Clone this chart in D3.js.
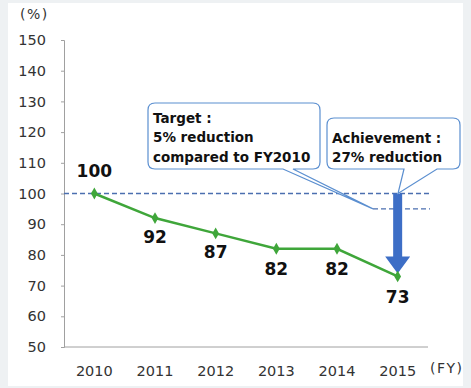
<!DOCTYPE html>
<html>
<head>
<meta charset="utf-8">
<script src="https://cdn.jsdelivr.net/npm/d3@7"></script>
<style>
  html, body { margin: 0; padding: 0; background: #eef1f3; }
  svg { display: block; }
</style>
</head>
<body>
<svg id="chart" width="471" height="388"></svg>
<script>
// Emission index by fiscal year (FY2010 = 100)
const years = ["2010", "2011", "2012", "2013", "2014", "2015"];
const values = [100, 92, 87, 82, 82, 73];
const yTicks = [50, 60, 70, 80, 90, 100, 110, 120, 130, 140, 150];
const baseline = 100;
const target = 95;
const targetLines = ["Target :", "5% reduction", "compared to FY2010"];
const achievementLines = ["Achievement :", "27% reduction"];

const svg = d3.select("#chart");

// white panel
svg.append("rect").attr("x", 8).attr("y", 3).attr("width", 455).attr("height", 383).attr("fill", "#ffffff");

const x = d3.scaleBand().domain(years).range([64, 428]);
const y = d3.scaleLinear().domain([50, 150]).range([347, 40]);
const cx = d => x(d) + x.bandwidth() / 2;

const axisFont = "'DejaVu Sans', Verdana, sans-serif";
const boldFont = "'DejaVu Sans', Verdana, sans-serif";

// y axis
const yAxis = svg.append("g").attr("transform", "translate(64,0)")
  .call(d3.axisLeft(y).tickValues(yTicks).tickSize(3).tickPadding(15));
yAxis.select(".domain").attr("stroke", "#a0a0a0");
yAxis.selectAll(".tick line").attr("stroke", "#a0a0a0");
yAxis.selectAll("text").attr("font-family", axisFont).attr("font-size", 14.5).attr("fill", "#333");

// x axis
const xAxis = svg.append("g").attr("transform", "translate(0,347)")
  .call(d3.axisBottom(x).tickSize(0).tickPadding(19));
xAxis.select(".domain").attr("stroke", "#a0a0a0").attr("d", "M64,0H428");
xAxis.selectAll("text").attr("font-family", axisFont).attr("font-size", 14.5).attr("fill", "#333");

// unit labels
svg.append("text").attr("x", 20).attr("y", 19).text("(%)")
  .attr("font-family", axisFont).attr("font-size", 14).attr("letter-spacing", 1.5).attr("fill", "#333");
svg.append("text").attr("x", 430).attr("y", 373).text("(FY)")
  .attr("font-family", axisFont).attr("font-size", 14).attr("letter-spacing", 1.5).attr("fill", "#333");

// reference lines
svg.append("line").attr("x1", 64).attr("x2", 430).attr("y1", y(baseline)).attr("y2", y(baseline))
  .attr("stroke", "#4b6fb0").attr("stroke-width", 1.3).attr("stroke-dasharray", "5,3");
svg.append("line").attr("x1", 373).attr("x2", 430).attr("y1", y(target)).attr("y2", y(target))
  .attr("stroke", "#4b6fb0").attr("stroke-width", 1.3).attr("stroke-dasharray", "5,3");

// callout outline: rounded box with a pointed tail on its bottom edge
function callout(x0, y0, x1, y1, tailA, tailB, tip, r) {
  const p = d3.path();
  p.moveTo(x0 + r, y0);
  p.lineTo(x1 - r, y0);
  p.quadraticCurveTo(x1, y0, x1, y0 + r);
  p.lineTo(x1, y1 - r);
  p.quadraticCurveTo(x1, y1, x1 - r, y1);
  p.lineTo(tailB, y1);
  p.lineTo(tip[0], tip[1]);
  p.lineTo(tailA, y1);
  p.lineTo(x0 + r, y1);
  p.quadraticCurveTo(x0, y1, x0, y1 - r);
  p.lineTo(x0, y0 + r);
  p.quadraticCurveTo(x0, y0, x0 + r, y0);
  p.closePath();
  return p.toString();
}

// blue arrow from baseline down to the FY2015 value
const ax = cx("2015");
const arrowTop = y(baseline), arrowTip = y(values[5]) - 3;
const headLen = 17, shaftHalf = 4.5, headHalf = 12.5;
svg.append("path")
  .attr("d", `M${ax - shaftHalf},${arrowTop} L${ax + shaftHalf},${arrowTop} L${ax + shaftHalf},${arrowTip - headLen}
    L${ax + headHalf},${arrowTip - headLen} L${ax},${arrowTip} L${ax - headHalf},${arrowTip - headLen}
    L${ax - shaftHalf},${arrowTip - headLen} Z`)
  .attr("fill", "#3d6ec6");

svg.append("path").attr("d", callout(148, 103, 320, 169, 283, 293, [373, y(target)], 7))
  .attr("fill", "#ffffff").attr("stroke", "#5b8fd0").attr("stroke-width", 1.2);
svg.append("path").attr("d", callout(327, 118, 460, 169, 404, 437, [398, y(baseline)], 7))
  .attr("fill", "#ffffff").attr("stroke", "#5b8fd0").attr("stroke-width", 1.2);

svg.append("g").selectAll("text").data(targetLines).join("text")
  .attr("x", 153).attr("y", (d, i) => 122.5 + i * 19.5).text(d => d)
  .attr("font-family", boldFont).attr("font-weight", "bold").attr("font-size", 13.5).attr("fill", "#111");
svg.append("g").selectAll("text").data(achievementLines).join("text")
  .attr("x", 332).attr("y", (d, i) => 143 + i * 18.5).text(d => d)
  .attr("font-family", boldFont).attr("font-weight", "bold").attr("font-size", 13.5).attr("fill", "#111");

// data line
const data = years.map((yr, i) => ({ yr, v: values[i] }));
svg.append("path").datum(data)
  .attr("d", d3.line().x(d => cx(d.yr)).y(d => y(d.v)))
  .attr("fill", "none").attr("stroke", "#3fa63a").attr("stroke-width", 2.5);
svg.append("g").selectAll("path").data(data).join("path")
  .attr("transform", d => `translate(${cx(d.yr)},${y(d.v)})`)
  .attr("d", d3.symbol(d3.symbolDiamond, 40))
  .attr("fill", "#3fa63a");

// value labels
const labelOffsets = [-17, 25, 25, 26, 26, 27];
svg.append("g").selectAll("text").data(data).join("text")
  .attr("x", d => cx(d.yr))
  .attr("y", (d, i) => y(d.v) + labelOffsets[i])
  .attr("text-anchor", "middle").text(d => d.v)
  .attr("font-family", boldFont).attr("font-weight", "bold").attr("font-size", 17).attr("fill", "#111");
</script>
</body>
</html>
